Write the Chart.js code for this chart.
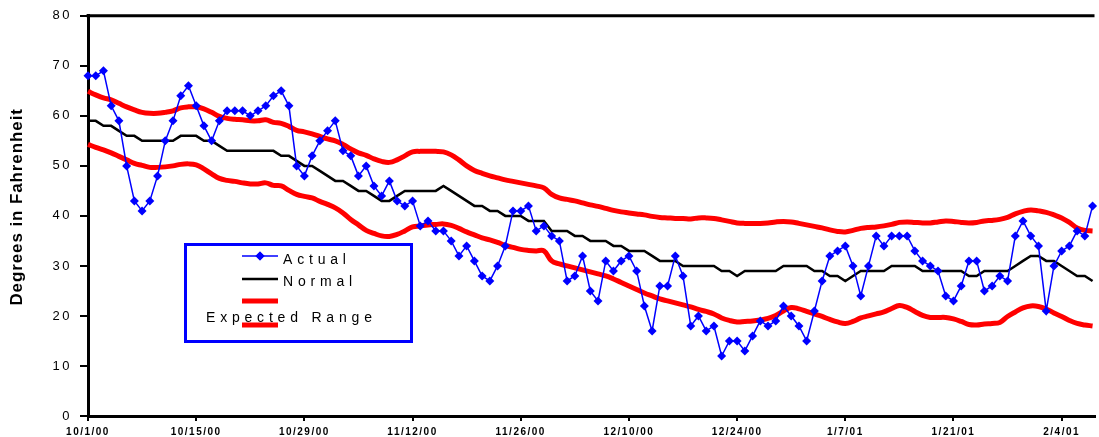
<!DOCTYPE html>
<html><head><meta charset="utf-8">
<script src="https://cdn.jsdelivr.net/npm/chart.js@4/dist/chart.umd.min.js"></script>
<style>html,body{margin:0;padding:0;background:#fff;}canvas{display:block;}</style>
</head><body>
<canvas id="c" width="1099" height="437"></canvas>
<script>
// Day index 0 = 10/1/00, one point per day through 2/8/01
const tickLabels = ['10/1/00','10/15/00','10/29/00','11/12/00','11/26/00','12/10/00','12/24/00','1/7/01','1/21/01','2/4/01'];
const tickStepDays = 14;

const actual = [
  68,68,69,62,59,50,43,41,43,48,
  55,59,64,66,62,58,55,59,61,61,
  61,60,61,62,64,65,62,50,48,52,
  55,57,59,53,52,48,50,46,44,47,
  43,42,43,38,39,37,37,35,32,34,
  31,28,27,30,34,41,41,42,37,38,
  36,35,27,28,32,25,23,31,29,31,
  32,29,22,17,26,26,32,28,18,20,
  17,18,12,15,15,13,16,19,18,19,
  22,20,18,15,21,27,32,33,34,30,
  24,30,36,34,36,36,36,33,31,30,
  29,24,23,26,31,31,25,26,28,27,
  36,39,36,34,21,30,33,34,37,36,
  42];

const normal = [
  59,59,58,58,57,56,56,55,55,55,
  55,55,56,56,56,55,55,54,53,53,
  53,53,53,53,53,52,52,51,50,50,
  49,48,47,47,46,45,45,44,43,43,
  44,45,45,45,45,45,46,45,44,43,
  42,42,41,41,40,40,40,39,39,39,
  37,37,37,36,36,35,35,35,34,34,
  33,33,33,32,31,31,31,30,30,30,
  30,30,29,29,28,29,29,29,29,29,
  30,30,30,30,29,29,28,28,27,28,
  29,29,29,29,30,30,30,30,29,29,
  29,29,29,29,28,28,29,29,29,29,
  30,31,32,32,31,31,30,29,28,28,
  27];

const rangeHigh = [
  64.9,64.2,63.6,63.2,62.5,61.8,61.2,60.7,60.5,60.5,
  60.7,61.0,61.6,61.8,61.8,61.4,60.7,59.9,59.5,59.3,
  59.2,59.0,59.0,59.2,58.7,58.5,57.9,57.1,56.8,56.4,
  55.9,55.4,55.0,54.3,53.4,52.6,52.1,51.4,50.9,50.7,
  51.2,52.0,52.8,52.9,52.9,52.9,52.8,52.2,51.2,50.0,
  49.1,48.5,48.0,47.6,47.2,46.9,46.6,46.3,46.0,45.6,
  44.3,43.6,43.3,43.0,42.6,42.2,41.9,41.5,41.1,40.8,
  40.6,40.4,40.2,39.9,39.7,39.6,39.5,39.5,39.4,39.6,
  39.6,39.5,39.2,38.9,38.6,38.5,38.5,38.5,38.6,38.8,
  38.9,38.8,38.5,38.2,37.9,37.6,37.2,36.9,36.8,37.1,
  37.5,37.7,37.8,38.0,38.3,38.7,38.8,38.7,38.6,38.6,
  38.8,39.0,38.9,38.7,38.6,38.7,39.0,39.1,39.3,39.7,
  40.4,40.9,41.2,41.0,40.7,40.2,39.6,38.7,37.6,37.1,
  37.0];

const rangeLow = [
  54.3,53.7,53.2,52.6,51.9,51.2,50.5,50.1,49.7,49.7,
  49.8,50.0,50.3,50.4,50.2,49.4,48.4,47.5,47.1,46.9,
  46.6,46.4,46.4,46.6,46.1,46.0,45.1,44.3,43.9,43.6,
  42.9,42.3,41.6,40.6,39.3,38.2,37.1,36.5,36.0,35.9,
  36.3,37.0,37.8,38.0,38.2,38.3,38.4,38.1,37.5,36.8,
  36.2,35.6,35.2,34.7,34.1,33.7,33.3,33.1,33.0,33.0,
  31.0,30.4,30.0,29.6,29.2,28.8,28.4,28.0,27.4,26.7,
  26.0,25.3,24.6,24.0,23.4,23.0,22.6,22.2,21.8,21.3,
  20.9,20.4,19.6,19.1,18.8,18.9,19.0,19.2,19.5,20.1,
  21.0,21.7,21.4,20.9,20.4,19.9,19.3,18.8,18.5,18.9,
  19.6,20.0,20.4,20.8,21.5,22.1,21.7,20.9,20.1,19.7,
  19.7,19.7,19.4,18.9,18.3,18.2,18.4,18.5,18.7,19.9,
  20.8,21.6,22.0,21.9,21.4,20.6,19.9,19.1,18.5,18.2,
  18.0];

const FONT = '"Liberation Sans", Arial, Helvetica, sans-serif';
const toXY = arr => arr.map((v, i) => ({x: i, y: v}));

// letter spacing for axis labels / title
const spacingPlugin = {
  id: 'spacing',
  afterUpdate(chart) {
    const patch = (s, method, sp, dy) => {
      if (!s) return;
      const key = '_sp_' + method;
      if (s[key]) return;
      const orig = s[method];
      s[method] = function (a) {
        const c = this.ctx; c.save(); c.letterSpacing = sp;
        if (dy) c.translate(0, dy);
        orig.call(this, a); c.restore();
      };
      s[key] = true;
    };
    patch(chart.scales.x, 'drawLabels', '1.5px', 0);
    patch(chart.scales.y, 'drawLabels', '2.5px', 0);
    patch(chart.scales.y, 'drawTitle', '0.9px', -9);
  }
};

// top frame line
const framePlugin = {
  id: 'frame',
  afterDatasetsDraw(chart) {
    const {ctx, chartArea: a} = chart;
    ctx.save();
    ctx.strokeStyle = '#000'; ctx.lineWidth = 3;
    ctx.beginPath(); ctx.moveTo(a.left - 1.5, a.top); ctx.lineTo(a.right, a.top); ctx.stroke();
    ctx.restore();
  }
};

// custom boxed legend like the original
const boxLegend = {
  id: 'boxLegend',
  afterDraw(chart, args, opts) {
    const ctx = chart.ctx;
    const ds = chart.data.datasets;
    const b = opts.box;
    ctx.save();
    ctx.fillStyle = '#fff';
    ctx.fillRect(b.x, b.y, b.w, b.h);
    ctx.strokeStyle = '#0000ff'; ctx.lineWidth = 3;
    ctx.strokeRect(b.x + 1.5, b.y + 1.5, b.w - 3, b.h - 3);
    ctx.font = '14px ' + FONT;
    ctx.letterSpacing = '4.8px';
    ctx.fillStyle = '#000';
    ctx.textBaseline = 'middle';
    const line = (d, y) => {
      ctx.strokeStyle = d.borderColor; ctx.lineWidth = d.borderWidth;
      ctx.beginPath(); ctx.moveTo(opts.sx0, y); ctx.lineTo(opts.sx1, y); ctx.stroke();
    };
    // Actual
    line(ds[0], opts.rows[0]);
    ctx.fillStyle = ds[0].pointBackgroundColor;
    Chart.helpers.drawPoint(ctx, {pointStyle: 'rectRot', radius: 4.5, rotation: 0, borderWidth: 0}, (opts.sx0 + opts.sx1) / 2, opts.rows[0]);
    ctx.fill();
    ctx.fillStyle = '#000';
    ctx.fillText(ds[0].label, opts.tx, opts.rows[0] + 4);
    // Normal
    line(ds[1], opts.rows[1]);
    ctx.fillText(ds[1].label, opts.tx, opts.rows[1] + 3);
    // upper range (no label)
    line(ds[2], opts.rows[2]);
    // Expected Range label then its sample line on top
    ctx.fillText(ds[3].label, opts.tx2, opts.rows[3] - 7);
    line(ds[3], opts.rows[3]);
    ctx.restore();
  }
};

new Chart(document.getElementById('c'), {
  type: 'line',
  data: {
    datasets: [
      {label: 'Actual', data: toXY(actual), borderColor: '#0000ff', backgroundColor: '#0000ff',
       borderWidth: 1.5, pointStyle: 'rectRot', pointRadius: 4.5, pointBackgroundColor: '#0000ff',
       pointBorderWidth: 0, tension: 0, order: 0, clip: false},
      {label: 'Normal', data: toXY(normal), borderColor: '#000000', borderWidth: 2.5,
       pointRadius: 0, tension: 0, order: 1, clip: false},
      {label: '', data: toXY(rangeHigh), borderColor: '#ff0000', borderWidth: 5,
       pointRadius: 0, tension: 0.4, order: 2, clip: false},
      {label: 'Expected Range', data: toXY(rangeLow), borderColor: '#ff0000', borderWidth: 5,
       pointRadius: 0, tension: 0.4, order: 3, clip: false}
    ]
  },
  options: {
    responsive: false,
    animation: false,
    events: [],
    layout: {padding: {top: 15, right: 0, left: 0, bottom: 0}},
    plugins: {
      legend: {display: false},
      tooltip: {enabled: false},
      boxLegend: {
        box: {x: 184, y: 243, w: 229, h: 100},
        sx0: 242, sx1: 278, tx: 283, tx2: 206,
        rows: [256, 279, 301, 325]
      }
    },
    scales: {
      x: {
        type: 'linear', min: 0, max: 130.25,
        afterFit: s => { s.height = 21; },
        afterBuildTicks: s => { s.ticks = tickLabels.map((_, i) => ({value: i * tickStepDays})); },
        ticks: {
          stepSize: tickStepDays, includeBounds: false, autoSkip: false, maxRotation: 0,
          padding: 5, color: '#000', font: {family: FONT, size: 10, weight: 'bold'},
          callback: v => tickLabels[Math.round(v / tickStepDays)]
        },
        grid: {drawOnChartArea: false, drawTicks: true, tickLength: 5, color: '#000', lineWidth: 2},
        border: {display: true, color: '#000', width: 3}
      },
      y: {
        min: 0, max: 80,
        afterFit: s => { s.width = 88; },
        ticks: {stepSize: 10, padding: 8, color: '#000', font: {family: FONT, size: 13}},
        grid: {drawOnChartArea: false, drawTicks: true, tickLength: 8, color: '#000', lineWidth: 2},
        border: {display: true, color: '#000', width: 3},
        title: {display: true, text: 'Degrees in Fahrenheit', color: '#000',
                font: {family: FONT, size: 17, weight: 'bold'}, padding: {top: 7, bottom: 0}}
      }
    }
  },
  plugins: [spacingPlugin, framePlugin, boxLegend]
});
</script>
</body></html>
